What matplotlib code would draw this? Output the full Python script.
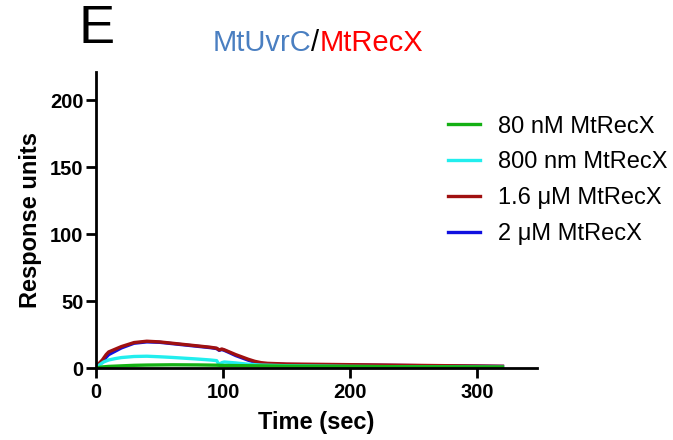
import matplotlib
matplotlib.use("Agg")
import matplotlib.pyplot as plt

plt.rcParams['font.family'] = ['Liberation Sans', 'DejaVu Sans']

# Sensorgram traces (time in sec, response units)
t_80nM = [0, 5, 10, 20, 30, 40, 60, 80, 95, 100, 110, 130, 150, 200, 250, 300, 320]
ru_80nM = [0, 0.8, 1.2, 1.6, 2.0, 2.2, 2.4, 2.3, 2.1, 1.9, 1.8, 1.6, 1.4, 1.1, 0.9, 0.8, 0.7]

t_800nM = [0, 3, 6, 10, 15, 20, 30, 40, 50, 60, 70, 80, 90, 95, 97, 99, 101, 110, 120, 130, 150, 200, 250, 300, 320]
ru_800nM = [0, 2.5, 4.5, 6, 7, 7.8, 8.6, 8.8, 8.4, 7.9, 7.3, 6.7, 6.0, 5.5, 2.5, 4.0, 4.5, 3.8, 2.8, 2.2, 1.7, 1.2, 0.9, 0.7, 0.6]

t_1p6uM = [0, 2, 5, 8, 10, 15, 20, 30, 40, 50, 60, 70, 80, 90, 95, 97, 99, 101, 105, 110, 120, 125, 130, 135, 150, 200, 250, 300, 320]
ru_1p6uM = [0, 3, 6, 10, 12, 14, 16, 19, 20, 19.5, 18.5, 17.5, 16.5, 15.5, 14.8, 13.5, 14.2, 13.6, 12, 10, 6.5, 5, 4, 3.5, 3.0, 2.5, 2.0, 1.5, 1.3]

t_2uM = [0, 2, 5, 8, 10, 15, 20, 30, 40, 50, 60, 70, 80, 90, 95, 97, 99, 101, 105, 110, 120, 125, 130, 135, 150, 200, 250, 300, 320]
ru_2uM = [0, 2, 4.5, 8, 10, 12.5, 15, 18.5, 19.5, 19.2, 18.2, 17.2, 16.2, 15.2, 14.5, 13.2, 13.8, 13.2, 11.5, 9.3, 5.8, 4.4, 3.4, 3.0, 2.6, 2.2, 1.8, 1.4, 1.2]

labels = ['80 nM MtRecX', '800 nm MtRecX', '1.6 \u03bcM MtRecX', '2 \u03bcM MtRecX']
colors = ['#14b014', '#22eeee', '#a01010', '#1010e0']
traces = [(t_80nM, ru_80nM), (t_800nM, ru_800nM), (t_1p6uM, ru_1p6uM), (t_2uM, ru_2uM)]
zorders = [4, 3, 2.5, 2]

x_ticks = [0, 100, 200, 300]
y_ticks = [0, 50, 100, 150, 200]

fig = plt.figure(figsize=(6.73, 4.40), dpi=100)
ax = fig.add_axes([0.1426, 0.1636, 0.655, 0.673])

handles = []
for (t, y), c, lab, z in zip(traces, colors, labels, zorders):
    ln, = ax.plot(t, y, color=c, lw=2.4, solid_joinstyle='round', zorder=z, label=lab)
    handles.append(ln)

ax.set_xlim(0, 347)
ax.set_ylim(0, 221)
ax.set_xticks(x_ticks)
ax.set_yticks(y_ticks)
for s in ['top', 'right']:
    ax.spines[s].set_visible(False)
for s in ['left', 'bottom']:
    ax.spines[s].set_linewidth(2)
    ax.spines[s].set_color('black')
    ax.spines[s].set_zorder(5)
ax.tick_params(axis='both', direction='out', length=7, width=2,
               labelsize=14.5, pad=2)
ax.tick_params(axis='x', pad=4)
for lab in ax.get_xticklabels() + ax.get_yticklabels():
    lab.set_fontweight('bold')
ax.set_xlabel('Time (sec)', fontsize=17, fontweight='bold', labelpad=6)
ax.set_ylabel('Response units', fontsize=17, fontweight='bold', labelpad=6)

ax.legend(handles, labels, loc='upper left', bbox_to_anchor=(0.798, 0.852),
          frameon=False, fontsize=17, handlelength=1.36, handletextpad=0.76,
          labelspacing=0.58, borderaxespad=0, borderpad=0)

# panel letter and two-colour title
fig.text(0.143, 0.935, 'E', fontsize=39, ha='center', va='center')
fig.text(0.462, 0.902, 'MtUvrC', color='#4a7fc1', fontsize=21, ha='right', va='center')
fig.text(0.462, 0.902, '/', color='black', fontsize=21, ha='left', va='center')
fig.text(0.4755, 0.902, 'MtRecX', color='#ff0000', fontsize=21, ha='left', va='center')

fig.savefig('out.png', dpi=100)
